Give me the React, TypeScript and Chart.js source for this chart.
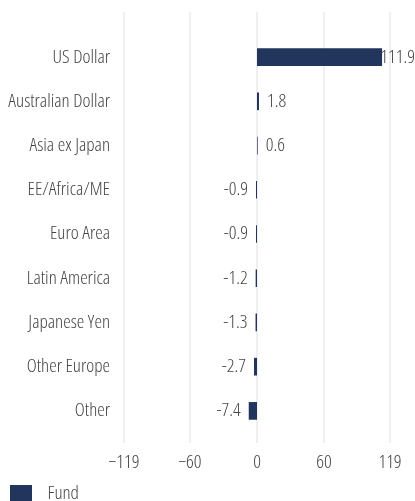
import React, { useEffect, useRef } from "react";
import { Chart, registerables } from "chart.js";

Chart.register(...registerables);

const categories = [
  "US Dollar",
  "Australian Dollar",
  "Asia ex Japan",
  "EE/Africa/ME",
  "Euro Area",
  "Latin America",
  "Japanese Yen",
  "Other Europe",
  "Other",
];
const fundValues = [111.9, 1.8, 0.6, -0.9, -0.9, -1.2, -1.3, -2.7, -7.4];
const xTicks = [-119, -60, 0, 60, 119];
const seriesName = "Fund";

const FAMILY = "'Open Sans', sans-serif";
const WEIGHT = "300 condensed";
const FONT_SIZE = 19;
const TEXT = "#454545";
const NAVY = "#22355c";
const GRID = "#efefef";

const baseFont = { family: FAMILY, size: FONT_SIZE, weight: WEIGHT as any };

const gridPlugin = {
  id: "fullGrid",
  beforeDatasetsDraw(chart: any) {
    const { ctx, chartArea, scales } = chart;
    const xs = scales.x;
    ctx.save();
    ctx.strokeStyle = GRID;
    ctx.lineWidth = 2;
    xs.ticks.forEach((t: any) => {
      const px = Math.round(xs.getPixelForValue(t.value));
      ctx.beginPath();
      ctx.moveTo(px, chartArea.top - 23);
      ctx.lineTo(px, chartArea.bottom + 10);
      ctx.stroke();
    });
    ctx.restore();
  },
};

const labelPlugin = {
  id: "valueLabels",
  afterDatasetsDraw(chart: any) {
    const { ctx } = chart;
    const meta = chart.getDatasetMeta(0);
    const data = chart.data.datasets[0].data as number[];
    ctx.save();
    ctx.font = `${WEIGHT} ${FONT_SIZE}px ${FAMILY}`;
    ctx.fillStyle = TEXT;
    ctx.textBaseline = "middle";
    meta.data.forEach((el: any, i: number) => {
      const v = data[i];
      const txt = v.toFixed(1);
      const w = ctx.measureText(txt).width;
      if (v >= 0) {
        let x = el.x + 8;
        if (x + w > chart.width) x = chart.width - w;
        ctx.textAlign = "left";
        ctx.fillText(txt, x, el.y);
      } else {
        ctx.textAlign = "right";
        ctx.fillText(txt, el.x - 8, el.y);
      }
    });
    ctx.restore();
  },
};

function makeLegendSwatch() {
  const c = document.createElement("canvas");
  c.width = 28;
  c.height = 17;
  const g = c.getContext("2d")!;
  g.fillStyle = NAVY;
  g.fillRect(0, 0, 22, 17);
  return c;
}

export default function App() {
  const ref = useRef<HTMLCanvasElement>(null);

  useEffect(() => {
    if (!ref.current) return;
    const swatch = makeLegendSwatch();
    const chart = new Chart(ref.current, {
      type: "bar",
      data: {
        labels: categories,
        datasets: [
          {
            label: seriesName,
            data: fundValues,
            backgroundColor: NAVY,
            borderWidth: 0,
            barPercentage: 0.8,
            categoryPercentage: 0.5,
          },
        ],
      },
      options: {
        indexAxis: "y",
        animation: false,
        responsive: true,
        maintainAspectRatio: false,
        layout: { padding: { top: 35, right: 25, left: 0, bottom: 0 } },
        scales: {
          x: {
            min: -119,
            max: 119,
            afterBuildTicks: (scale: any) => {
              scale.ticks = xTicks.map((v) => ({ value: v }));
            },
            afterFit: (scale: any) => {
              scale.height = 41;
              scale.paddingLeft = 0;
              scale.paddingRight = 0;
            },
            grid: { display: false, drawTicks: false },
            border: { display: false },
            ticks: {
              padding: 18,
              color: TEXT,
              font: baseFont,
              callback: (v: any) => (Number(v) < 0 ? "\u2212" + Math.abs(Number(v)) : String(v)),
            },
          },
          y: {
            afterFit: (scale: any) => {
              scale.width = 124;
            },
            grid: { display: false, drawTicks: false },
            border: { display: false },
            ticks: {
              padding: 14,
              color: TEXT,
              font: baseFont,
            },
          },
        },
        plugins: {
          legend: {
            position: "bottom",
            align: "start",
            labels: {
              usePointStyle: true,
              pointStyle: swatch as any,
              pointStyleWidth: 28,
              boxWidth: 28,
              boxHeight: 17,
              padding: 10,
              color: TEXT,
              font: baseFont,
            },
          },
          tooltip: { enabled: false },
        },
      },
      plugins: [gridPlugin, labelPlugin],
    });
    return () => chart.destroy();
  }, []);

  return (
    <div style={{ position: "fixed", left: 0, top: 0, width: 415, height: 513 }}>
      <canvas ref={ref} />
    </div>
  );
}
